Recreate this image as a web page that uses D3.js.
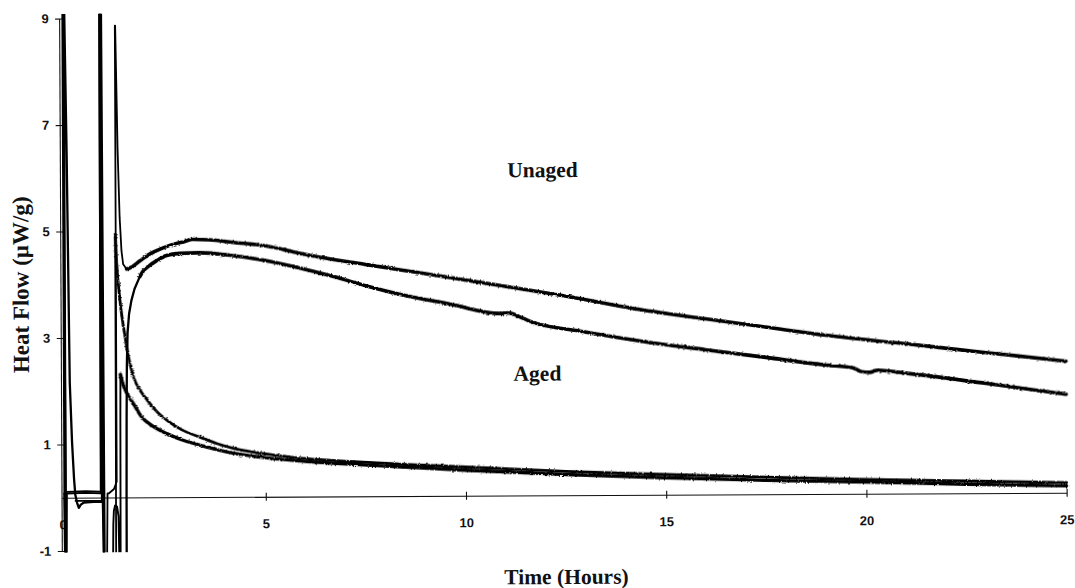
<!DOCTYPE html>
<html>
<head>
<meta charset="utf-8">
<script src="https://cdn.jsdelivr.net/npm/d3@7"></script>
<style>
  body { margin: 0; background: #fff; }
  svg { display: block; }
  .axis path, .axis line { stroke: #111; stroke-width: 1.1px; }
  .axis text { font-family: "Liberation Sans", Arial, sans-serif; font-weight: bold; font-size: 13px; fill: #111; }
  .label { font-family: "Liberation Serif", "Times New Roman", serif; font-weight: bold; font-size: 21.5px; fill: #111; }
  .trace { fill: none; stroke: #000; stroke-linejoin: round; stroke-linecap: round; }
</style>
</head>
<body>
<div id="chart"></div>
<script>

// tick labels
let hourTicks = [0, 5, 10, 15, 20, 25];
let flowTicks = [-1, 1, 3, 5, 7, 9];

// [hours, µW/g]
// unaged, first run: insertion spikes + baseline
let unagedAStart = [
    [-0.03, 0.08], [-0.02, 9.6], [-0.005, 9.6], [0.01, -1.6], [0.02, -1.6], [0.035, 0.08],
    [0.5, 0.09], [0.886, 0.08], [0.899, 9.6], [0.924, 9.6], [0.949, -1.6], [1.024, -1.6],
    [1.049, 0.08], [1.086, 0.08], [1.211, 0.16], [1.28, 0.3], [1.29, 8.86], [1.298, 8.86],
    [1.343, 6.55], [1.386, 5.26], [1.428, 4.63], [1.468, 4.38], [1.553, 4.29]
];
let unagedA = [
    [1.553, 4.29], [1.635, 4.31], [1.885, 4.44], [2.135, 4.57], [2.302, 4.63], [2.634, 4.73],
    [3.0, 4.80], [3.208, 4.84], [3.6, 4.83], [4.215, 4.78], [5.049, 4.71], [5.88, 4.57],
    [6.71, 4.45], [7.546, 4.35], [8.377, 4.25], [9.63, 4.10], [11.0, 3.93], [12.5, 3.74],
    [14.62, 3.45], [16.0, 3.30], [17.5, 3.14], [19.0, 2.98], [20.9, 2.82], [23.0, 2.64], [25.0, 2.47]
];

// unaged, second run
let unagedBStart = [
    [-0.03, 0.08], [-0.012, -1.6], [0.0, -1.6], [0.012, 9.6], [0.02, 9.6], [0.07, 6.47],
    [0.12, 2.16], [0.17, 1.03], [0.215, 0.35], [0.245, 0.05], [0.29, -0.1], [0.33, -0.19],
    [0.38, -0.13], [0.46, -0.09], [0.7, -0.08], [0.911, -0.08], [0.931, 9.6], [0.944, 9.6],
    [0.969, -1.6], [1.518, -1.6], [1.524, 0.0], [1.535, 1.5], [1.548, 2.5], [1.57, 3.1],
    [1.61, 3.45], [1.67, 3.7], [1.75, 3.92], [1.885, 4.15]
];
let unagedB = [
    [1.885, 4.15], [1.968, 4.25], [2.135, 4.36], [2.302, 4.44], [2.552, 4.54], [2.884, 4.58],
    [3.383, 4.59], [4.215, 4.53], [5.049, 4.43], [5.88, 4.29], [6.71, 4.13], [7.546, 3.95],
    [8.377, 3.79], [9.63, 3.60], [10.87, 3.42], [11.1, 3.43], [11.35, 3.36],
    [11.62, 3.27], [12.95, 3.07], [14.62, 2.86], [16.0, 2.72], [17.5, 2.57], [19.0, 2.42],
    [19.7, 2.36], [19.9, 2.29], [20.1, 2.28], [20.3, 2.32], [20.9, 2.27], [23.0, 2.06], [25.0, 1.85]
];

// aged, first run
let agedAStart = [
    [0.035, 0.11], [0.5, 0.12], [0.88, 0.11], [0.905, 9.6], [0.925, 9.6], [0.955, -1.6],
    [1.174, -1.6], [1.19, -0.5], [1.205, -0.25], [1.236, -0.15], [1.286, -0.17], [1.32, -0.35],
    [1.345, -1.6], [1.366, -1.6], [1.379, 1.5], [1.386, 2.31]
];
let agedA = [
    [1.386, 2.31], [1.45, 2.12], [1.55, 1.95], [1.718, 1.75], [1.9, 1.52], [2.2, 1.33],
    [2.552, 1.19], [2.9, 1.08], [3.383, 0.97], [4.215, 0.82], [5.049, 0.73], [6.0, 0.66],
    [7.0, 0.61], [8.377, 0.55], [10.0, 0.48], [12.5, 0.39], [15.0, 0.32], [17.5, 0.26],
    [20.0, 0.22], [22.5, 0.17], [25.0, 0.13]
];

// aged, second run
let agedBStart = [
    [0.25, -0.06], [0.6, -0.06], [0.925, -0.06], [0.952, -1.6], [1.255, -1.6], [1.266, 2.0], [1.273, 4.94]
];
let agedB = [
    [1.273, 4.94], [1.303, 4.44], [1.386, 3.69], [1.511, 3.0], [1.593, 2.63], [1.718, 2.25],
    [1.885, 2.0], [2.0, 1.88], [2.302, 1.6], [2.552, 1.44], [2.9, 1.27], [3.383, 1.12],
    [3.8, 1.0], [4.215, 0.91], [4.6, 0.85], [5.049, 0.80], [5.88, 0.72], [7.0, 0.66],
    [8.377, 0.60], [10.0, 0.54], [12.5, 0.45], [15.0, 0.38], [17.5, 0.32], [20.0, 0.27],
    [22.5, 0.23], [25.0, 0.19]
];

let width = 1075, height = 588;

let svg = d3.select("#chart").append("svg")
    .attr("width", width)
    .attr("height", height);

let defs = svg.append("defs");

// scanned, noisy look for the long traces
let rough = defs.append("filter")
    .attr("id", "rough")
    .attr("filterUnits", "userSpaceOnUse")
    .attr("x", 0).attr("y", 0)
    .attr("width", width).attr("height", height);
rough.append("feTurbulence")
    .attr("type", "fractalNoise")
    .attr("baseFrequency", "0.6 0.9")
    .attr("numOctaves", 1)
    .attr("seed", 4)
    .attr("result", "noise");
rough.append("feDisplacementMap")
    .attr("in", "SourceGraphic")
    .attr("in2", "noise")
    .attr("scale", 3)
    .attr("xChannelSelector", "R")
    .attr("yChannelSelector", "G");

// the scan is tilted a little, so is the whole drawing
let g = svg.append("g")
    .attr("transform", "rotate(-0.29, 565, 290)");

let x = d3.scaleLinear().domain([-0.1, 25]).range([60.5, 1065.6]);
let y = d3.scaleLinear().domain([-1, 9]).range([548.5, 16]);

defs.append("clipPath")
    .attr("id", "plot-clip")
    .append("rect")
    .attr("x", x(-0.1) + 1)
    .attr("y", y(9) - 4.5)
    .attr("width", x(25) - x(-0.1) + 6)
    .attr("height", y(-1) - y(9) + 6);

// y axis
let yAxis = d3.axisLeft(y)
    .tickValues(flowTicks)
    .tickFormat(d => String(d))
    .tickSizeInner(4)
    .tickSizeOuter(0);

g.append("g")
    .attr("class", "axis y-axis")
    .attr("transform", `translate(${x(-0.1)},0)`)
    .call(yAxis)
    .call(a => a.selectAll(".tick line").attr("x1", 3))
    .call(a => a.selectAll(".tick text").attr("x", -10.5));

// x axis sits on zero
let xAxis = d3.axisBottom(x)
    .tickValues(hourTicks)
    .tickFormat(d => String(d))
    .tickSizeInner(4)
    .tickSizeOuter(0);

g.append("g")
    .attr("class", "axis x-axis")
    .attr("transform", `translate(0,${y(0)})`)
    .call(xAxis)
    .call(a => a.selectAll(".tick line").attr("y1", -4))
    .call(a => a.selectAll(".tick text").attr("y", 31.5).attr("dy", 0))
    .call(a => a.selectAll(".tick text").filter(d => d === 0).attr("x", -3));

// traces
let lineStraight = d3.line()
    .x(d => x(d[0]))
    .y(d => y(d[1]));

let lineSmooth = d3.line()
    .x(d => x(d[0]))
    .y(d => y(d[1]))
    .curve(d3.curveMonotoneX);

let traces = g.append("g")
    .attr("clip-path", "url(#plot-clip)");

[[unagedAStart, 1.8], [unagedBStart, 2.3], [agedAStart, 1.9], [agedBStart, 1.8]].forEach(([data, w]) => {
    traces.append("path")
        .attr("class", "trace")
        .attr("d", lineStraight(data))
        .attr("stroke-width", w);
});

let noisy = traces.append("g")
    .attr("filter", "url(#rough)");

[[unagedA, 3.6], [unagedB, 3.6], [agedA, 3.4], [agedB, 2.8]].forEach(([data, w]) => {
    noisy.append("path")
        .attr("class", "trace")
        .attr("d", lineSmooth(data))
        .attr("stroke-width", w);
});

// labels
g.append("text")
    .attr("class", "label")
    .attr("x", 543)
    .attr("y", 177)
    .attr("text-anchor", "middle")
    .text("Unaged");

g.append("text")
    .attr("class", "label")
    .attr("x", 537)
    .attr("y", 380.5)
    .attr("text-anchor", "middle")
    .text("Aged");

g.append("text")
    .attr("class", "label")
    .attr("x", 565)
    .attr("y", 584)
    .attr("text-anchor", "middle")
    .text("Time (Hours)");

g.append("text")
    .attr("class", "label")
    .attr("transform", "translate(28.5,282) rotate(-90)")
    .attr("text-anchor", "middle")
    .style("font-size", "23px")
    .text("Heat Flow (µW/g)");

</script>
</body>
</html>
